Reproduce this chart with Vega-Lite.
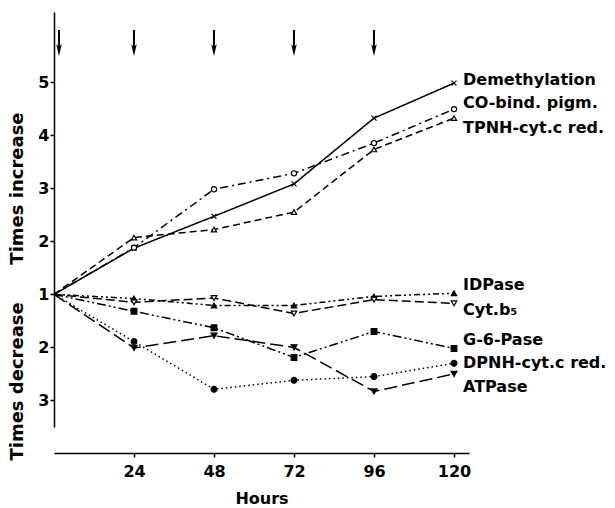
{
  "$schema": "https://vega.github.io/schema/vega-lite/v6.json",
  "width": 415,
  "height": 415,
  "autosize": {"type": "none"},
  "padding": {"left": 54, "top": 12, "right": 146, "bottom": 81},
  "background": "white",
  "config": {
    "view": {"stroke": null},
    "font": "DejaVu Sans",
    "axis": {"domainColor": "black", "tickColor": "black", "labelColor": "black", "titleColor": "black", "grid": false}
  },
  "datasets": {
    "series": [
      {"series": "Demethylation", "hours": 0, "pos": 0},
      {"series": "Demethylation", "hours": 24, "pos": 0.87},
      {"series": "Demethylation", "hours": 48, "pos": 1.47},
      {"series": "Demethylation", "hours": 72, "pos": 2.08},
      {"series": "Demethylation", "hours": 96, "pos": 3.32},
      {"series": "Demethylation", "hours": 120, "pos": 3.98},
      {"series": "CO-bind. pigm.", "hours": 0, "pos": 0},
      {"series": "CO-bind. pigm.", "hours": 24, "pos": 0.88},
      {"series": "CO-bind. pigm.", "hours": 48, "pos": 1.98},
      {"series": "CO-bind. pigm.", "hours": 72, "pos": 2.28},
      {"series": "CO-bind. pigm.", "hours": 96, "pos": 2.85},
      {"series": "CO-bind. pigm.", "hours": 120, "pos": 3.49},
      {"series": "TPNH-cyt.c red.", "hours": 0, "pos": 0},
      {"series": "TPNH-cyt.c red.", "hours": 24, "pos": 1.07},
      {"series": "TPNH-cyt.c red.", "hours": 48, "pos": 1.22},
      {"series": "TPNH-cyt.c red.", "hours": 72, "pos": 1.55},
      {"series": "TPNH-cyt.c red.", "hours": 96, "pos": 2.73},
      {"series": "TPNH-cyt.c red.", "hours": 120, "pos": 3.32},
      {"series": "IDPase", "hours": 0, "pos": 0},
      {"series": "IDPase", "hours": 24, "pos": -0.08},
      {"series": "IDPase", "hours": 48, "pos": -0.21},
      {"series": "IDPase", "hours": 72, "pos": -0.21},
      {"series": "IDPase", "hours": 96, "pos": -0.04},
      {"series": "IDPase", "hours": 120, "pos": 0.02},
      {"series": "Cyt.b₅", "hours": 0, "pos": 0},
      {"series": "Cyt.b₅", "hours": 24, "pos": -0.15},
      {"series": "Cyt.b₅", "hours": 48, "pos": -0.07},
      {"series": "Cyt.b₅", "hours": 72, "pos": -0.36},
      {"series": "Cyt.b₅", "hours": 96, "pos": -0.1},
      {"series": "Cyt.b₅", "hours": 120, "pos": -0.17},
      {"series": "G-6-Pase", "hours": 0, "pos": 0},
      {"series": "G-6-Pase", "hours": 24, "pos": -0.32},
      {"series": "G-6-Pase", "hours": 48, "pos": -0.63},
      {"series": "G-6-Pase", "hours": 72, "pos": -1.19},
      {"series": "G-6-Pase", "hours": 96, "pos": -0.7},
      {"series": "G-6-Pase", "hours": 120, "pos": -1.02},
      {"series": "DPNH-cyt.c red.", "hours": 0, "pos": 0},
      {"series": "DPNH-cyt.c red.", "hours": 24, "pos": -0.89},
      {"series": "DPNH-cyt.c red.", "hours": 48, "pos": -1.79},
      {"series": "DPNH-cyt.c red.", "hours": 72, "pos": -1.62},
      {"series": "DPNH-cyt.c red.", "hours": 96, "pos": -1.55},
      {"series": "DPNH-cyt.c red.", "hours": 120, "pos": -1.3},
      {"series": "ATPase", "hours": 0, "pos": 0},
      {"series": "ATPase", "hours": 24, "pos": -1.01},
      {"series": "ATPase", "hours": 48, "pos": -0.78},
      {"series": "ATPase", "hours": 72, "pos": -1.0},
      {"series": "ATPase", "hours": 96, "pos": -1.83},
      {"series": "ATPase", "hours": 120, "pos": -1.5}
    ],
    "labels": [
      {"label": "Demethylation", "hours": 120, "pos": 4.04},
      {"label": "CO-bind. pigm.", "hours": 120, "pos": 3.6},
      {"label": "TPNH-cyt.c red.", "hours": 120, "pos": 3.13},
      {"label": "IDPase", "hours": 120, "pos": 0.17},
      {"label": "Cyt.b₅", "hours": 120, "pos": -0.3},
      {"label": "G-6-Pase", "hours": 120, "pos": -0.87},
      {"label": "DPNH-cyt.c red.", "hours": 120, "pos": -1.3},
      {"label": "ATPase", "hours": 120, "pos": -1.75}
    ],
    "arrows": [
      {"hours": 1.5}, {"hours": 24}, {"hours": 48}, {"hours": 72}, {"hours": 96}
    ]
  },
  "layer": [
    {
      "data": {"name": "series"},
      "mark": {"type": "line", "color": "black", "strokeWidth": 1.5},
      "encoding": {
        "x": {
          "field": "hours", "type": "quantitative",
          "scale": {"domain": [0, 124.5], "nice": false, "zero": false},
          "axis": {
            "values": [24, 48, 72, 96, 120], "offset": 26, "tickSize": 4, "tickWidth": 1.5,
            "domainWidth": 1.5, "labelFontSize": 16, "labelFontWeight": "bold", "labelPadding": 6,
            "title": "Hours", "titleFontSize": 16, "titleFontWeight": "bold", "titlePadding": 11
          }
        },
        "y": {
          "field": "pos", "type": "quantitative",
          "scale": {"domain": [-2.5, 5.32], "nice": false, "zero": false},
          "axis": {
            "values": [-2, -1, 0, 1, 2, 3, 4],
            "labelExpr": "datum.value >= 0 ? format(datum.value + 1, 'd') : format(1 - datum.value, 'd')",
            "tickSize": 4, "tickWidth": 1.5, "domainWidth": 1.5, "labelFontSize": 16, "labelFontWeight": "bold", "labelPadding": 1,
            "title": "Times decrease\u00a0\u00a0\u00a0\u00a0\u00a0\u00a0Times increase",
            "titleFontSize": 18, "titleFontWeight": "bold",
            "titleAngle": -90, "titleAlign": "center", "titleBaseline": "middle",
            "titleX": -37, "titleY": 274
          }
        },
        "detail": {"field": "series"},
        "strokeDash": {
          "field": "series", "type": "nominal", "legend": null,
          "scale": {
            "domain": ["Demethylation", "CO-bind. pigm.", "TPNH-cyt.c red.", "IDPase", "Cyt.b₅", "G-6-Pase", "DPNH-cyt.c red.", "ATPase"],
            "range": [[1, 0], [8, 4, 2, 4], [7, 4], [6, 3, 2, 3, 2, 3], [9, 4], [9, 3, 2, 3, 2, 3], [1.5, 3], [13, 5]]
          }
        }
      }
    },
    {
      "data": {"name": "series"},
      "transform": [{"filter": "datum.hours > 0"}],
      "mark": {"type": "point", "filled": true, "stroke": "black", "strokeWidth": 1.2, "opacity": 1},
      "encoding": {
        "x": {"field": "hours", "type": "quantitative"},
        "y": {"field": "pos", "type": "quantitative"},
        "shape": {
          "field": "series", "type": "nominal", "legend": null,
          "scale": {
            "domain": ["Demethylation", "CO-bind. pigm.", "TPNH-cyt.c red.", "IDPase", "Cyt.b₅", "G-6-Pase", "DPNH-cyt.c red.", "ATPase"],
            "range": ["M-1,-1L1,1M1,-1L-1,1", "circle", "triangle-up", "triangle-up", "triangle-down", "square", "circle", "triangle-down"]
          }
        },
        "size": {
          "field": "series", "type": "nominal", "legend": null,
          "scale": {
            "domain": ["Demethylation", "CO-bind. pigm.", "TPNH-cyt.c red.", "IDPase", "Cyt.b₅", "G-6-Pase", "DPNH-cyt.c red.", "ATPase"],
            "range": [25, 35, 30, 30, 30, 40, 45, 30]
          }
        },
        "fill": {
          "condition": {"test": "indexof(['IDPase','G-6-Pase','DPNH-cyt.c red.','ATPase'], datum.series) >= 0", "value": "black"},
          "value": "white"
        }
      }
    },
    {
      "data": {"name": "labels"},
      "mark": {"type": "text", "align": "left", "baseline": "middle", "dx": 9, "fontSize": 16, "fontWeight": "bold", "color": "black"},
      "encoding": {
        "x": {"field": "hours", "type": "quantitative"},
        "y": {"field": "pos", "type": "quantitative"},
        "text": {"field": "label"}
      }
    },
    {
      "data": {"name": "arrows"},
      "mark": {"type": "rule", "color": "black", "strokeWidth": 2},
      "encoding": {
        "x": {"field": "hours", "type": "quantitative"},
        "y": {"datum": 4.98},
        "y2": {"datum": 4.62}
      }
    },
    {
      "data": {"name": "arrows"},
      "mark": {"type": "point", "filled": true, "color": "black", "opacity": 1, "shape": "M-0.45,-1L0,1L0.45,-1L0,-0.5Z", "size": 150},
      "encoding": {
        "x": {"field": "hours", "type": "quantitative"},
        "y": {"datum": 4.6}
      }
    }
  ]
}
